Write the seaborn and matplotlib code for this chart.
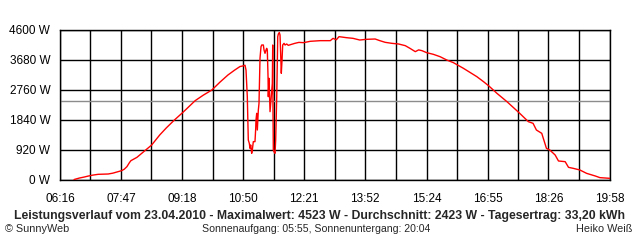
import matplotlib
matplotlib.use("Agg")
import matplotlib.pyplot as plt
import seaborn as sns
import pandas as pd
import numpy as np

# ---- data ----
times = [
    "06:37:00", "06:38:00", "06:45:00", "06:52:00", "06:58:00", "07:05:00", "07:13:00", "07:20:00",
    "07:28:00", "07:35:00", "07:42:00", "07:48:00", "07:52:00", "07:56:00", "08:00:00", "08:02:00",
    "08:06:00", "08:11:00", "08:16:00", "08:24:00", "08:33:00", "08:45:00", "08:55:00", "09:07:00",
    "09:20:00", "09:38:00", "09:50:00", "10:03:00", "10:15:00", "10:27:00", "10:37:00", "10:45:00",
    "10:50:00", "10:52:30",
    "10:54:00", "10:55:56", "10:57:25", "10:58:55", "11:00:00", "11:01:00", "11:02:30", "11:03:25",
    "11:04:55", "11:07:25", "11:08:30", "11:08:55", "11:10:00", "11:10:55", "11:12:25", "11:13:25",
    "11:14:55", "11:16:25", "11:17:30", "11:19:55", "11:20:55", "11:22:25", "11:23:55", "11:24:55",
    "11:25:50", "11:26:55", "11:27:20", "11:28:25", "11:28:50", "11:29:55", "11:30:55", "11:32:25",
    "11:33:20", "11:33:55", "11:34:20", "11:34:50", "11:35:50", "11:37:20", "11:38:20", "11:39:55",
    "11:40:50", "11:41:25", "11:42:20", "11:43:45", "11:44:50", "11:45:50", "11:46:45", "11:47:50",
    "11:48:50", "11:50:50", "11:52:20", "11:54:50", "11:57:10",
    "12:07:00", "12:13:00", "12:20:00", "12:30:00", "12:45:00", "13:00:00", "13:04:00", "13:09:00",
    "13:13:00", "13:24:00", "13:34:00", "13:44:00", "13:54:00", "14:07:00", "14:14:00", "14:22:00",
    "14:32:00", "14:42:00", "14:52:00", "14:59:00", "15:07:00", "15:12:00", "15:17:00", "15:24:00",
    "15:34:00", "15:44:00", "15:54:00", "16:04:00", "16:10:00", "16:19:00", "16:31:00", "16:39:00",
    "16:49:00", "16:57:00", "17:09:00", "17:24:00", "17:42:00", "17:56:00", "18:03:00", "18:08:00",
    "18:16:00", "18:23:00", "18:28:00", "18:36:00", "18:41:00", "18:51:00", "18:56:00", "19:03:00",
    "19:13:00", "19:23:00", "19:36:00", "19:43:00", "19:58:00",
]
power_w = [
    15, 20, 60, 90, 120, 150, 174, 180,
    184, 210, 250, 286, 330, 409, 540, 593,
    640, 695, 780, 920, 1073, 1380, 1600, 1840,
    2080, 2433, 2600, 2760, 3000, 3220, 3370, 3480,
    3500, 3520,
    3373, 2555, 1227, 1124, 971, 1073, 818, 920,
    1176, 1176, 1585, 1840, 2045, 1533, 2147, 2351,
    3731, 4089, 4140, 4140, 3987, 3885, 3987, 4038,
    3987, 3169, 2555, 3118, 2812, 2096, 2351, 2709,
    2965, 4140, 2150, 920, 868, 818, 1227, 2555,
    3578, 4396, 4478, 4523, 4447, 3782, 3272, 3680,
    4140, 4191, 4140, 4171, 4130,
    4191, 4220, 4212, 4253, 4273, 4273, 4344, 4300,
    4396, 4365, 4344, 4293, 4314, 4324, 4273, 4222,
    4191, 4171, 4120, 4038, 3936, 3990, 3966, 3905,
    3854, 3782, 3680, 3598, 3527, 3424, 3272, 3169,
    3015, 2883, 2658, 2402, 2065, 1789, 1738, 1533,
    1431, 971, 920, 767, 583, 562, 388, 358,
    307, 204, 123, 72, 51,
]
x_tick_labels = ["06:16", "07:47", "09:18", "10:50", "12:21", "13:52", "15:24", "16:55", "18:26", "19:58"]
y_ticks = [0, 920, 1840, 2760, 3680, 4600]
average_w = 2423
title = ("Leistungsverlauf vom 23.04.2010 - Maximalwert: 4523 W - Durchschnitt: 2423 W - "
         "Tagesertrag: 33,20 kWh")
footer_left = "\u00a9 SunnyWeb"
footer_mid = "Sonnenaufgang: 05:55, Sonnenuntergang: 20:04"
footer_right = "Heiko Wei\u00df"


def to_min(s):
    parts = [int(p) for p in s.split(":")]
    while len(parts) < 3:
        parts.append(0)
    return parts[0] * 60 + parts[1] + parts[2] / 60.0


df = pd.DataFrame({"minute": [to_min(t) for t in times], "power": power_w})

sns.set_style("white")
plt.rcParams["font.family"] = ["Liberation Sans", "DejaVu Sans"]

fig = plt.figure(figsize=(6.4, 2.4), dpi=100)
ax = fig.add_axes([60 / 640, 1 - 180 / 240, 550 / 640, 150 / 240])

major = [to_min(t) for t in x_tick_labels]
minor = [(a + b) / 2 for a, b in zip(major[:-1], major[1:])]

ax.set_xlim(major[0], major[-1])
ax.set_ylim(y_ticks[0], y_ticks[-1])
ax.set_xticks(major)
ax.set_xticks(minor, minor=True)
ax.set_xticklabels(x_tick_labels)
ax.set_yticks(y_ticks)
ax.set_yticklabels([f"{v} W" for v in y_ticks])

ax.grid(True, which="both", color="black", linewidth=1.0, zorder=1)
ax.set_axisbelow(True)
for s in ax.spines.values():
    s.set_color("black")
    s.set_linewidth(1.0)

ax.axhline(average_w, color="#8c8c8c", linewidth=1.0, zorder=2)

sns.lineplot(data=df, x="minute", y="power", ax=ax, color="#ff0000", linewidth=1.0,
             estimator=None, sort=False, zorder=3)

ax.set_xlabel("")
ax.set_ylabel("")
ax.tick_params(axis="both", which="both", direction="out", length=4, width=1.0,
               color="black", labelsize=8.5, labelcolor="black")
ax.tick_params(axis="x", which="both", pad=5)
ax.tick_params(axis="y", pad=3)

fig.text(320 / 640, 1 - 216 / 240, title, ha="center", va="center", fontsize=8.8, fontweight="bold")
fig.text(5 / 640, 1 - 229 / 240, footer_left, ha="left", va="center", fontsize=7.8)
fig.text(316 / 640, 1 - 229 / 240, footer_mid, ha="center", va="center", fontsize=7.6)
fig.text(632 / 640, 1 - 229 / 240, footer_right, ha="right", va="center", fontsize=7.8)

fig.savefig("out.png", dpi=100, facecolor="white")
